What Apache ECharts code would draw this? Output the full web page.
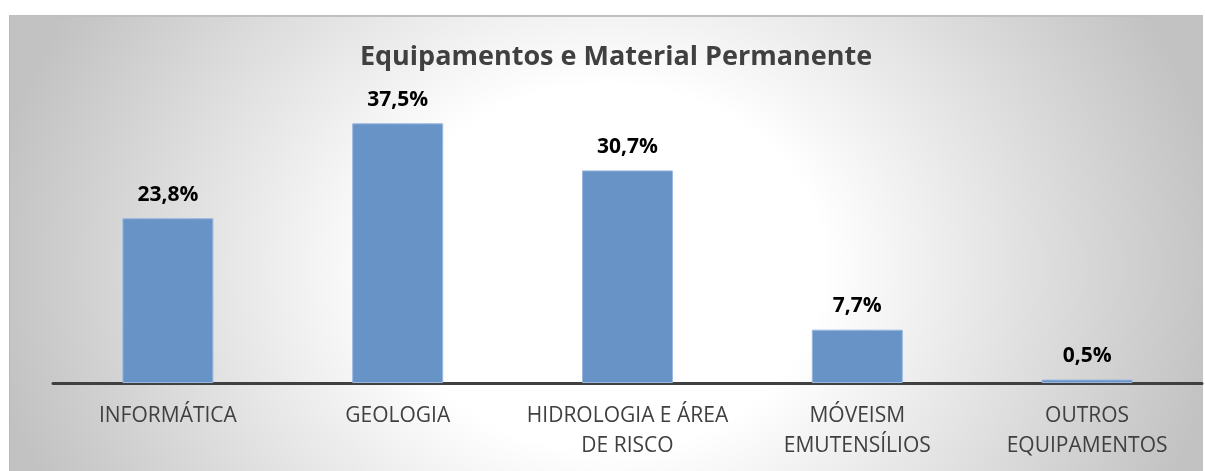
<!DOCTYPE html>
<html>
<head>
<meta charset="utf-8">
<script src="https://cdn.jsdelivr.net/npm/echarts@6/dist/echarts.min.js"></script>
<style>
    html, body { margin: 0; padding: 0; background: #fff; }
    #bg {
        position: absolute; left: 9px; top: 15px; width: 1193px; height: 456px;
        border-left: 1px solid #b8b8b8; border-top: 2px solid #c0c0c0;
        background: radial-gradient(ellipse 620px 520px at 50% 55%, #ffffff 0%, #ffffff 35%, #c2c2c2 100%);
    }
    #main { position: absolute; left: 0; top: 0; width: 1205px; height: 471px; }
</style>
</head>
<body>
<div id="bg"></div>
<div id="main"></div>
<script>
    var categories = ['INFORMÁTICA', 'GEOLOGIA', 'HIDROLOGIA E ÁREA\nDE RISCO', 'MÓVEISM\nEMUTENSÍLIOS', 'OUTROS\nEQUIPAMENTOS'];
    var values = [23.8, 37.5, 30.7, 7.7, 0.5];

    var myChart = echarts.init(document.getElementById('main'));
    var option = {
        backgroundColor: 'transparent',
        title: {
            text: 'Equipamentos e Material Permanente',
            left: 611,
            textAlign: 'center',
            top: 39,
            textStyle: {
                fontFamily: 'Open Sans',
                fontWeight: 'bold',
                fontSize: 27,
                color: '#404040'
            }
        },
        grid: {
            left: 53,
            right: 3,
            top: 106,
            bottom: 88
        },
        xAxis: {
            type: 'category',
            data: categories,
            axisTick: {show: false},
            axisLine: {lineStyle: {color: '#404040', width: 3}},
            axisLabel: {
                margin: 18,
                fontFamily: 'Open Sans',
                fontSize: 21,
                lineHeight: 30,
                color: '#404040',
                interval: 0
            }
        },
        yAxis: {
            type: 'value',
            min: 0,
            max: 40,
            show: false
        },
        series: [{
            type: 'bar',
            data: values,
            barWidth: '39.6%',
            z: 3,
            itemStyle: {
                color: '#6893c7',
                borderColor: '#9ab8df',
                borderWidth: 1
            },
            label: {
                show: true,
                position: 'top',
                distance: 13,
                fontFamily: 'Open Sans',
                fontWeight: 'bold',
                fontSize: 21,
                color: '#000',
                formatter: function (p) {
                    return p.value.toFixed(1).replace('.', ',') + '%';
                }
            }
        }]
    };
    myChart.setOption(option);
</script>
</body>
</html>
